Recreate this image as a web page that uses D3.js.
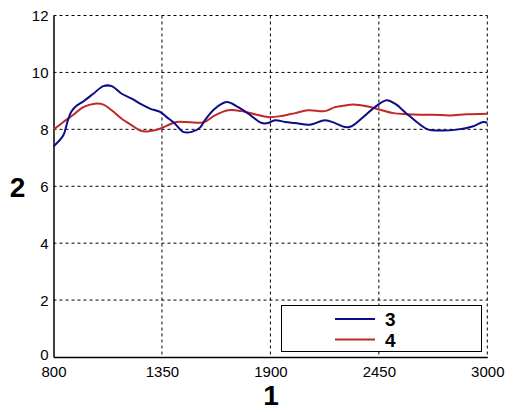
<!DOCTYPE html>
<html><head><meta charset="utf-8">
<script src="https://cdn.jsdelivr.net/npm/d3@7"></script>
<style>body{margin:0;background:#fff}svg{display:block}</style>
</head><body>
<svg id="c" width="515" height="412"></svg>
<script>
const xTicks = [800, 1350, 1900, 2450, 3000];
const yTicks = [0, 2, 4, 6, 8, 10, 12];
const seriesNames = ["3", "4"];
const blueX = [800,850,870,890,915,951,1002,1053,1095,1146,1197,1239,1289,1340,1374,1416,1458,1501,1543,1568,1619,1678,1737,1788,1856,1889,1923,1974,2025,2101,2177,2228,2278,2312,2371,2430,2490,2532,2591,2642,2701,2760,2845,2929,2980,3000];
const blueY = [7.40,7.79,8.25,8.62,8.82,8.98,9.25,9.52,9.52,9.25,9.08,8.90,8.73,8.61,8.43,8.20,7.91,7.91,8.06,8.32,8.73,8.96,8.78,8.55,8.22,8.22,8.32,8.26,8.22,8.16,8.32,8.22,8.08,8.11,8.43,8.78,9.02,8.90,8.55,8.26,7.99,7.96,7.99,8.11,8.26,8.23];
const redX = [800,850,901,951,1010,1053,1095,1146,1197,1247,1289,1340,1391,1425,1543,1568,1619,1686,1754,1822,1889,1957,2025,2092,2177,2228,2278,2320,2388,2456,2523,2591,2659,2726,2811,2895,3000];
const redY = [7.99,8.26,8.51,8.78,8.90,8.87,8.67,8.37,8.14,7.94,7.94,8.02,8.18,8.26,8.23,8.26,8.49,8.67,8.64,8.53,8.43,8.47,8.57,8.67,8.64,8.78,8.84,8.87,8.81,8.69,8.57,8.53,8.51,8.51,8.49,8.53,8.55];
const colors = ["#0c0c88", "#c0282a"];

const svg = d3.select("#c");
const L = 53.5, R = 487.3, T = 15.5, B = 357;
const x = d3.scaleLinear().domain([800, 3000]).range([L, R]);
const y = d3.scaleLinear().domain([0, 12]).range([B, T]);
const font = "Arial, 'Liberation Sans', sans-serif";

// grid
const g = svg.append("g");
g.selectAll(".hg").data(yTicks.filter(d => d > 0)).join("line")
  .attr("x1", L).attr("x2", R).attr("y1", d => y(d)).attr("y2", d => y(d))
  .attr("stroke", "#000").attr("stroke-width", 1).attr("stroke-dasharray", "3,3");
g.selectAll(".vg").data(xTicks.filter(d => d > 800)).join("line")
  .attr("y1", T).attr("y2", B).attr("x1", d => x(d)).attr("x2", d => x(d))
  .attr("stroke", "#000").attr("stroke-width", 1).attr("stroke-dasharray", "3,3");

// axes
const xAxis = d3.axisBottom(x).tickValues(xTicks).tickFormat(d3.format("d")).tickSize(0).tickPadding(6);
const yAxis = d3.axisLeft(y).tickValues(yTicks).tickFormat(d3.format("d")).tickSize(0).tickPadding(5);
const gx = svg.append("g").attr("transform", `translate(0,${B})`).call(xAxis);
const gy = svg.append("g").attr("transform", `translate(${L},0)`).call(yAxis);
[gx, gy].forEach(a => {
  a.select(".domain").attr("stroke", "#000").attr("stroke-width", 1.5);
  a.selectAll("text").attr("font-family", font).attr("font-size", 15).attr("fill", "#000");
});
gy.selectAll("text").attr("dy", "0.36em");
gy.selectAll(".tick").filter(d => d === 0).select("text").attr("dy", "2px");
gx.selectAll("text").attr("dy", "0.9em");

// lines
const line = d3.line().x(d => x(d[0])).y(d => y(d[1])).curve(d3.curveCatmullRom.alpha(0.5));
const data = [d3.zip(blueX, blueY), d3.zip(redX, redY)];
svg.selectAll(".s").data([data[1], data[0]]).join("path")
  .attr("d", line).attr("fill", "none")
  .attr("stroke", (d, i) => i === 0 ? colors[1] : colors[0]).attr("stroke-width", 2);

// axis labels
svg.append("text").attr("x", 17.5).attr("y", 197).attr("text-anchor", "middle")
  .attr("font-family", font).attr("font-weight", "bold").attr("font-size", 28).text("2");
svg.append("text").attr("x", 271).attr("y", 405).attr("text-anchor", "middle")
  .attr("font-family", font).attr("font-weight", "bold").attr("font-size", 28).text("1");

// legend
const lg = svg.append("g");
lg.append("rect").attr("x", 281.5).attr("y", 305.5).attr("width", 200).attr("height", 46)
  .attr("fill", "#fff").attr("stroke", "#000").attr("stroke-width", 1);
seriesNames.forEach((n, i) => {
  const yy = 319 + i * 20.5;
  lg.append("line").attr("x1", 335).attr("x2", 375).attr("y1", yy).attr("y2", yy)
    .attr("stroke", colors[i]).attr("stroke-width", 2);
  lg.append("text").attr("x", 385).attr("y", yy + 7).attr("font-family", font)
    .attr("font-weight", "bold").attr("font-size", 19).text(n);
});
</script>
</body></html>
